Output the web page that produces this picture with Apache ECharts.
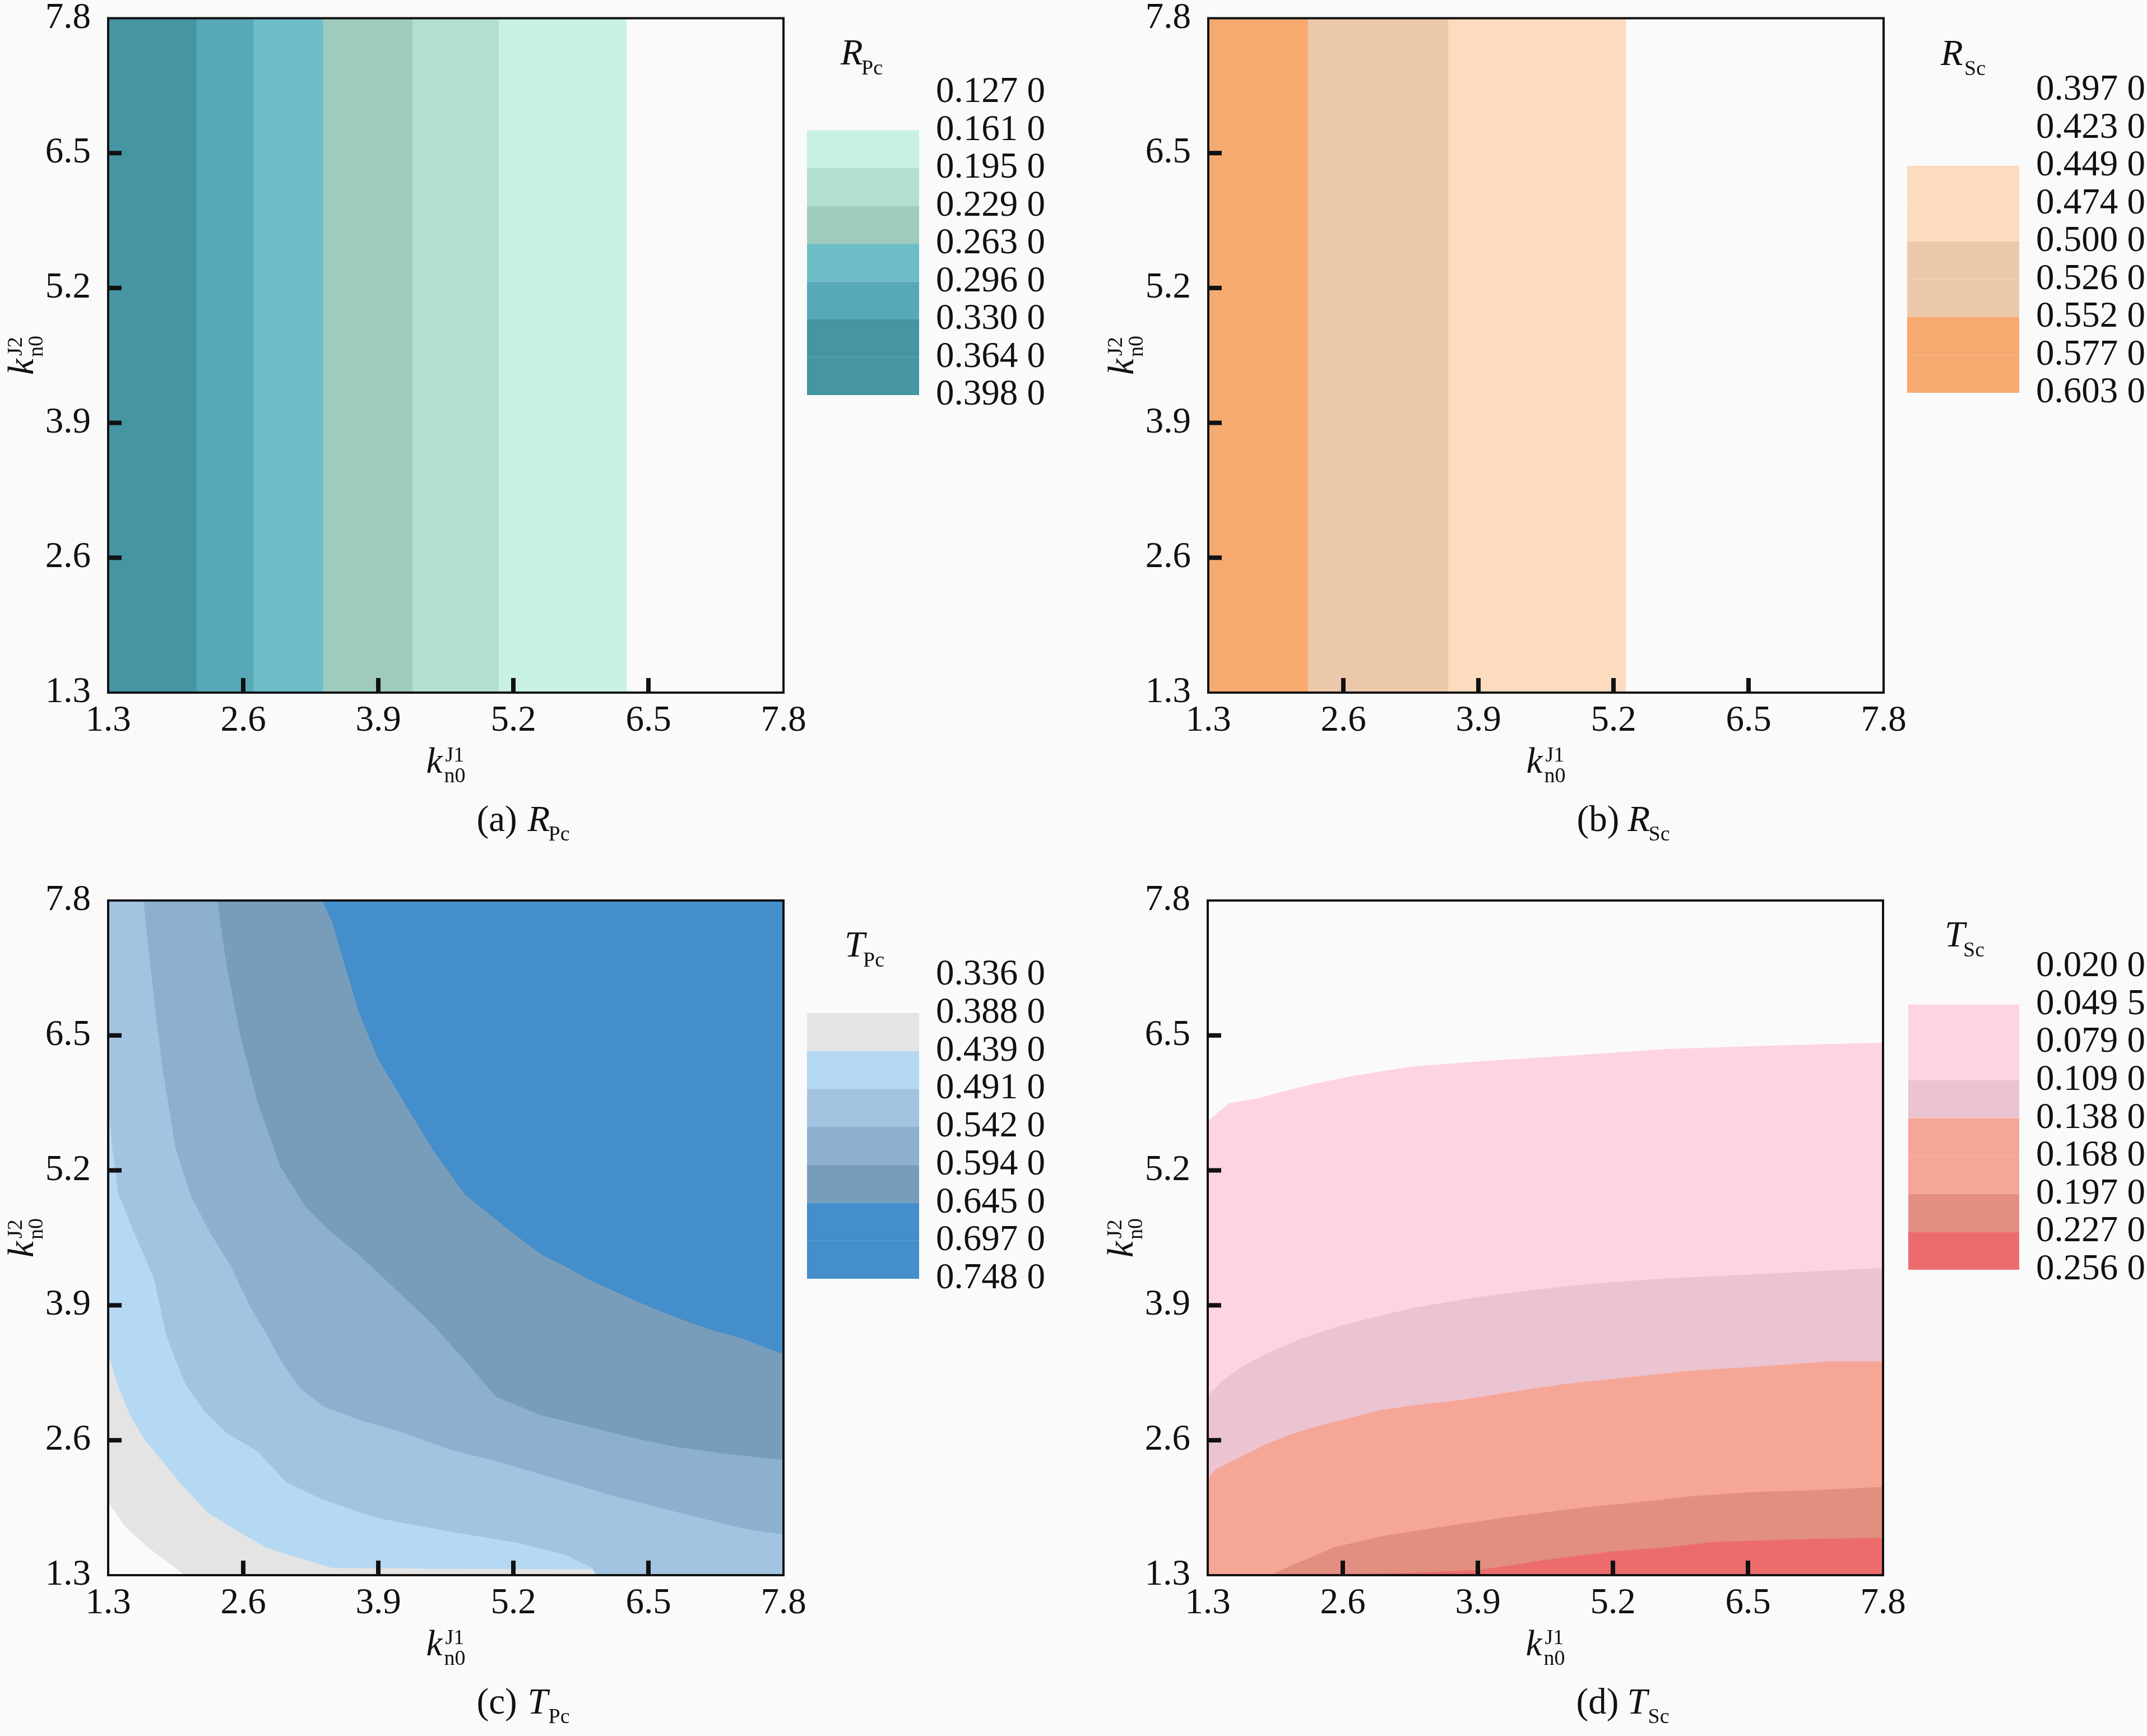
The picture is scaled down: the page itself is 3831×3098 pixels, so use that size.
<!DOCTYPE html>
<html>
<head>
<meta charset="utf-8">
<script src="https://cdn.jsdelivr.net/npm/echarts@6/dist/echarts.min.js"></script>
<style>
html,body{margin:0;padding:0;background:#fafafa;}
#main{width:3831px;height:3098px;}
</style>
</head>
<body>
<div id="main"></div>
<script>
// 坐标刻度
var ticks = [1.3, 2.6, 3.9, 5.2, 6.5, 7.8];

// (a) R_Pc 色标刻度
var rpcLevels = ['0.127 0', '0.161 0', '0.195 0', '0.229 0', '0.263 0', '0.296 0', '0.330 0', '0.364 0', '0.398 0'];
// 等值线在 k_n0^J1 方向的位置 (竖直分界)
var rpcBounds = [6.29, 5.06, 4.23, 3.37, 2.70, 2.15];

// (b) R_Sc
var rscLevels = ['0.397 0', '0.423 0', '0.449 0', '0.474 0', '0.500 0', '0.526 0', '0.552 0', '0.577 0', '0.603 0'];
var rscBounds = [5.32, 3.61, 2.26];

// (c) T_Pc 等值线 [k_n0^J1, k_n0^J2]
var tpcLevels = ['0.336 0', '0.388 0', '0.439 0', '0.491 0', '0.542 0', '0.594 0', '0.645 0', '0.697 0', '0.748 0'];
var tpc388 = [[1.3, 2.005], [1.467, 1.763], [1.687, 1.564], [1.864, 1.432], [2.04, 1.3]];
var tpc439 = [[1.3, 3.43], [1.40, 3.11], [1.51, 2.84], [1.64, 2.62], [1.78, 2.45], [2.00, 2.18], [2.26, 1.90],
  [2.52, 1.74], [2.83, 1.56], [3.19, 1.45], [3.45, 1.37], [4.5, 1.362], [5.96, 1.355], [6.00, 1.3]];
var tpc491 = [[1.3, 5.85], [1.34, 5.41], [1.40, 4.97], [1.55, 4.60], [1.74, 4.16], [1.86, 3.61], [1.95, 3.37],
  [2.04, 3.15], [2.22, 2.89], [2.44, 2.67], [2.74, 2.49], [3.01, 2.20], [3.36, 2.03], [3.89, 1.85], [4.59, 1.72],
  [5.25, 1.61], [5.69, 1.50], [5.96, 1.37], [6.00, 1.3]];
var tpc542 = [[1.64, 7.8], [1.73, 6.95], [1.82, 6.20], [1.95, 5.41], [2.10, 4.95], [2.28, 4.60], [2.48, 4.28],
  [2.66, 3.90], [2.83, 3.61], [2.96, 3.37], [3.14, 3.11], [3.36, 2.93], [3.71, 2.80], [4.15, 2.67], [4.59, 2.51],
  [5.03, 2.40], [5.47, 2.27], [6.14, 2.07], [6.80, 1.90], [7.41, 1.75], [7.8, 1.69]];
var tpc594 = [[2.35, 7.8], [2.44, 7.17], [2.57, 6.51], [2.74, 5.85], [2.96, 5.23], [3.20, 4.85], [3.45, 4.60],
  [3.71, 4.39], [4.07, 4.05], [4.42, 3.72], [4.81, 3.28], [5.03, 3.02], [5.47, 2.84], [5.92, 2.73], [6.36, 2.62],
  [6.80, 2.53], [7.24, 2.47], [7.8, 2.41]];
var tpc645 = [[3.36, 7.8], [3.45, 7.61], [3.58, 7.17], [3.71, 6.73], [3.89, 6.29], [4.15, 5.85], [4.42, 5.41],
  [4.73, 4.97], [5.19, 4.60], [5.47, 4.39], [5.69, 4.28], [5.92, 4.15], [6.14, 4.05], [6.36, 3.95], [6.62, 3.84],
  [6.88, 3.74], [7.15, 3.65], [7.41, 3.58], [7.63, 3.49], [7.8, 3.43]];

// (d) T_Sc 等值线
var tscLevels = ['0.020 0', '0.049 5', '0.079 0', '0.109 0', '0.138 0', '0.168 0', '0.197 0', '0.227 0', '0.256 0'];
var tsc0495 = [[1.3, 5.67], [1.51, 5.85], [1.77, 5.89], [1.95, 5.94], [2.26, 6.02], [2.70, 6.11], [3.27, 6.20],
  [3.93, 6.25], [4.85, 6.31], [5.73, 6.37], [6.66, 6.40], [7.8, 6.43]];
var tsc109 = [[1.3, 3.03], [1.45, 3.18], [1.65, 3.32], [1.90, 3.45], [2.20, 3.58], [2.56, 3.70], [2.96, 3.80],
  [3.31, 3.88], [3.84, 3.97], [4.37, 4.04], [4.81, 4.09], [5.29, 4.13], [5.73, 4.16], [6.61, 4.20], [7.8, 4.26]];
var tsc138 = [[1.3, 2.23], [1.38, 2.32], [1.64, 2.45], [1.86, 2.56], [2.08, 2.65], [2.30, 2.72], [2.65, 2.81],
  [2.96, 2.89], [3.31, 2.94], [3.75, 2.99], [4.19, 3.06], [4.72, 3.14], [5.29, 3.20], [5.95, 3.27], [6.61, 3.31],
  [7.27, 3.36], [7.8, 3.36]];
var tsc197 = [[1.90, 1.3], [2.12, 1.40], [2.52, 1.57], [3.00, 1.68], [3.58, 1.77], [4.19, 1.86], [4.90, 1.95],
  [5.51, 2.01], [5.95, 2.06], [6.53, 2.10], [7.19, 2.12], [7.8, 2.15]];
var tsc227 = [[1.90, 1.3], [3.20, 1.32], [3.90, 1.35], [4.19, 1.39], [4.50, 1.44], [5.20, 1.53], [5.73, 1.57],
  [6.17, 1.62], [7.14, 1.65], [7.8, 1.66]];

// 配色
var rpcFill = ['#c8f1e4', '#b3dfd2', '#9fcbbd', '#6ebeca', '#58a9b8', '#4595a3'];
var rpcBar = [null, '#c8f1e4', '#b3dfd2', '#9fcbbd', '#6ebeca', '#58a9b8', '#4595a3', '#4595a3'];
var rscFill = ['#fddbbe', '#ecc8ab', '#f6aa6f'];
var rscBar = [null, null, '#fddbbe', '#fddbbe', '#ecc8ab', '#ecc8ab', '#f6aa6f', '#f6aa6f'];
var tpcFill = ['#e4e4e4', '#b5d8f3', '#a2c4e1', '#8cb0ce', '#789dbb', '#438ecb'];
var tpcBar = [null, '#e4e4e4', '#b5d8f3', '#a2c4e1', '#8cb0ce', '#789dbb', '#438ecb', '#438ecb'];
var tscFill = ['#fed4e1', '#ecc3d0', '#f6a696', '#e28e80', '#ec6c6e'];
var tscBar = [null, '#fed4e1', '#fed4e1', '#ecc3d0', '#f6a696', '#f6a696', '#e28e80', '#ec6c6e'];

var SERIF = '"Liberation Serif", "Times New Roman", serif';
var INK = '#111';
var X0 = ticks[0], X1 = ticks[ticks.length - 1];
var PW = 1205, PH = 1204;

// 子图与色标位置
var panels = [
  {left: 193, top: 32, barLeft: 1440, barTop: 165, barBottom: 705, title: [1500, 98], sub: [1537, 123], cap: ['(a)', 'R', 'Pc']},
  {left: 2156, top: 32, barLeft: 3403, barTop: 161, barBottom: 701, title: [3463, 99], sub: [3505, 124], cap: ['(b)', 'R', 'Sc']},
  {left: 193, top: 1607, barLeft: 1440, barTop: 1740, barBottom: 2282, title: [1507, 1690], sub: [1540, 1715], cap: ['(c)', 'T', 'Pc']},
  {left: 2155, top: 1607, barLeft: 3405, barTop: 1725, barBottom: 2266, title: [3470, 1672], sub: [3503, 1697], cap: ['(d)', 'T', 'Sc']}
];

// 多边形: 竖直分界, 左侧为较大值
function stripPolys(bounds) {
  return bounds.map(function (b) { return [[X0, X0], [X0, X1], [b, X1], [b, X0]]; });
}
// 等值线右上方
function upperPolys(lines) {
  return lines.map(function (l) { return l.concat([[X1, X0], [X1, X1], [X0, X1]]); });
}
// 等值线下方
function lowerPolys(lines) {
  return lines.map(function (l) { return l.concat([[X1, X0], [X0, X0]]); });
}

var fills = [
  {polys: stripPolys(rpcBounds), colors: rpcFill, levels: rpcLevels, bar: rpcBar},
  {polys: stripPolys(rscBounds), colors: rscFill, levels: rscLevels, bar: rscBar},
  {polys: upperPolys([tpc388, tpc439, tpc491, tpc542, tpc594, tpc645]), colors: tpcFill, levels: tpcLevels, bar: tpcBar},
  {polys: lowerPolys([tsc0495, tsc109, tsc138, tsc197, tsc227]), colors: tscFill, levels: tscLevels, bar: tscBar}
];

var grids = [], xAxes = [], yAxes = [], series = [], texts = [];

function axisBase(idx) {
  return {
    type: 'value', gridIndex: idx, min: X0, max: X1, interval: 1.3, z: 6,
    axisLine: {show: true, onZero: false, lineStyle: {color: INK, width: 4}},
    axisTick: {show: false},
    axisLabel: {fontSize: 65, fontFamily: SERIF, color: INK, formatter: function (v) { return v.toFixed(1); }},
    splitLine: {show: false}
  };
}

function txt(x, y, s, size, italic) {
  return {
    type: 'text', x: x, y: y, silent: true,
    style: {text: s, fontSize: size, fontFamily: SERIF, fontStyle: italic ? 'italic' : 'normal',
      fill: INK, align: 'left', verticalAlign: 'middle'}
  };
}

// 内侧刻度线 (下边与左边)
var innerTicks = ticks.slice(1, ticks.length - 1);

panels.forEach(function (p, i) {
  var f = fills[i];
  var cx = p.left + PW / 2, B = p.top + PH;

  // 主图: 先画填色, 最后画刻度
  var m = grids.length;
  grids.push({left: p.left, top: p.top, width: PW, height: PH, show: true,
    borderColor: INK, borderWidth: 4, backgroundColor: 'transparent', z: 5});
  var xa = axisBase(m); xa.axisLabel.margin = 18;
  var ya = axisBase(m); ya.axisLabel.margin = 31;
  xAxes.push(xa); yAxes.push(ya);
  var items = f.polys.map(function (poly, k) { return [X0, X0, k, 0]; });
  innerTicks.forEach(function (v, k) { items.push([v, v, k, 1]); });
  series.push({
    type: 'custom', xAxisIndex: m, yAxisIndex: m, silent: true,
    data: items,
    renderItem: function (params, api) {
      var k = api.value(2);
      if (api.value(3) === 1) {
        var bx = api.coord([api.value(0), X0]);
        var ly = api.coord([X0, api.value(1)]);
        return {type: 'group', children: [
          {type: 'rect', shape: {x: bx[0] - 4, y: bx[1] - 26, width: 8, height: 26}, style: {fill: INK}},
          {type: 'rect', shape: {x: ly[0], y: ly[1] - 4, width: 24, height: 8}, style: {fill: INK}}
        ]};
      }
      return {
        type: 'polygon',
        shape: {points: f.polys[k].map(function (pt) { return api.coord(pt); })},
        style: {fill: f.colors[k]}
      };
    }
  });

  // 色标
  var g = grids.length;
  grids.push({left: p.barLeft, top: p.barTop, width: 200, height: p.barBottom - p.barTop});
  xAxes.push({type: 'value', gridIndex: g, min: 0, max: 1, show: false});
  yAxes.push({
    type: 'value', gridIndex: g, min: 0, max: 8, interval: 1, inverse: true, position: 'right',
    axisLine: {show: false}, axisTick: {show: false}, splitLine: {show: false},
    axisLabel: {margin: 30, fontSize: 65, fontFamily: SERIF, color: INK,
      formatter: function (v) { return f.levels[v]; }}
  });
  var barData = [];
  f.bar.forEach(function (c, k) { if (c) barData.push([0, k, k]); });
  series.push({
    type: 'custom', xAxisIndex: g, yAxisIndex: g, silent: true,
    data: barData,
    renderItem: function (params, api) {
      var k = api.value(2);
      var a = api.coord([0, k]), b = api.coord([1, k + 1]);
      return {type: 'rect', shape: {x: a[0], y: a[1], width: b[0] - a[0], height: b[1] - a[1]},
        style: {fill: f.bar[k]}};
    }
  });

  // 坐标轴名称 k_n0^J1 / k_n0^J2
  texts.push(txt(cx - 35, B + 126, 'k', 65, true));
  texts.push(txt(cx - 1, B + 113, 'J1', 38));
  texts.push(txt(cx - 3, B + 150, 'n0', 38));
  texts.push({type: 'group', x: p.left - 151, y: p.top + PH / 2, rotation: Math.PI / 2,
    children: [txt(-35, 0, 'k', 65, true), txt(-1, -13, 'J2', 38), txt(-3, 24, 'n0', 38)]});

  // 色标标题
  texts.push(txt(p.title[0], p.title[1], p.cap[1], 65, true));
  texts.push(txt(p.sub[0], p.sub[1], p.cap[2], 38));

  // 图注
  texts.push(txt(cx + 55, B + 230, p.cap[0], 65));
  texts.push(txt(cx + 146, B + 230, p.cap[1], 65, true));
  texts.push(txt(cx + 183, B + 254, p.cap[2], 38));
});

var myChart = echarts.init(document.getElementById('main'));
myChart.setOption({
  backgroundColor: '#fafafa',
  animation: false,
  grid: grids,
  xAxis: xAxes,
  yAxis: yAxes,
  series: series,
  graphic: {elements: texts}
});
</script>
</body>
</html>
